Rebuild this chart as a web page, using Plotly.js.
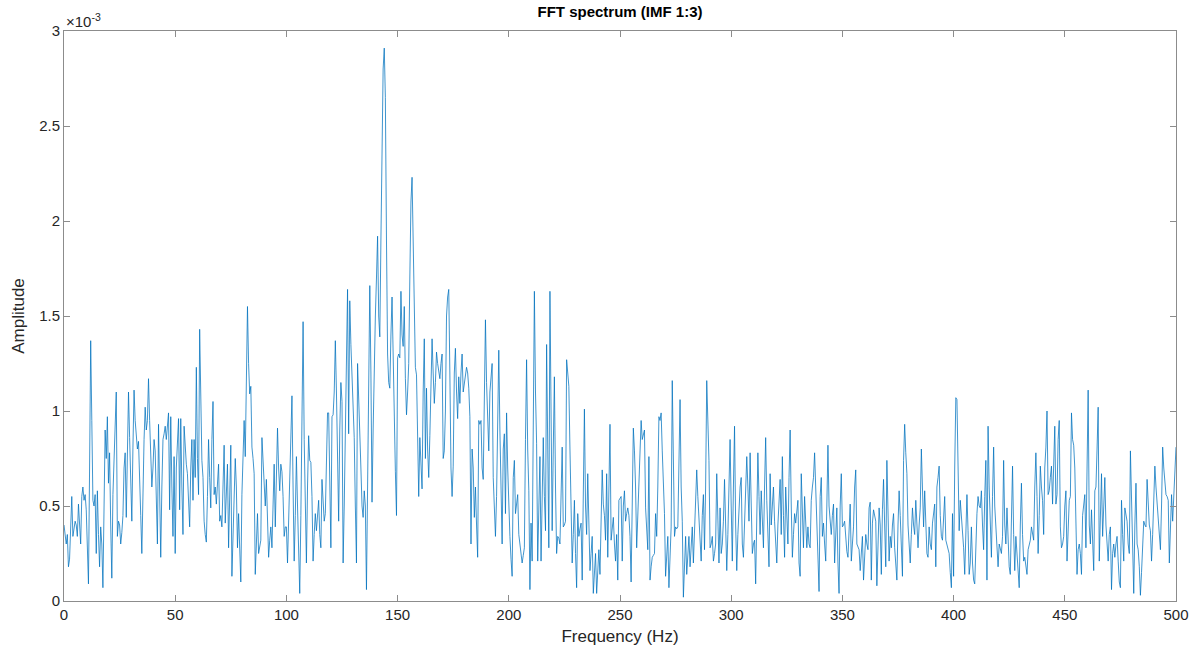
<!DOCTYPE html>
<html>
<head>
<meta charset="utf-8">
<script src="https://cdn.plot.ly/plotly-3.0.1.min.js"></script>
<style>html,body{margin:0;padding:0;background:#fff;}#chart{width:1200px;height:659px;}</style>
</head>
<body>
<div id="chart"></div>
<script>
// Amplitude values in units of 1e-3, frequency step 0.5 Hz, each segment with its start frequency (Hz)
const freqStep = 0.5;
const seg000 = [0.40,0.33,0.30,0.35,0.18,0.22,0.45,0.55,0.34,0.38,
0.42,0.40,0.34,0.51,0.42,0.30,0.55,0.60,0.53,0.56,
0.48,0.30,0.09,0.70,1.37,0.95,0.53,0.50,0.56,0.25,
0.58,0.35,0.18,0.39,0.30,0.07,0.40,0.90,0.75,0.97,
0.62,0.78,0.40,0.12,0.56,0.75,0.95,1.10,0.34,0.42,
0.40,0.30,0.36,0.45,0.70,0.78,0.44,0.90,1.10,0.86,
0.60,0.42,0.81,1.11,0.95,0.85,0.80,0.84,0.58,0.45,
0.25,0.60,0.85,1.02,0.90,0.95,1.17,0.95,0.72,0.60,
0.70,0.85,0.79,0.50,0.30,0.93,0.55,0.23,0.60,0.85,
0.88,0.92];
const seg046 = [0.85,0.92,0.99,0.48,0.97,0.60,0.34,0.76,0.25,0.70,
0.85,0.96,0.48,0.96,0.60,0.35,0.92,0.78,0.72,0.67,
0.50,0.39,0.70,0.85,0.53,0.85,0.65,1.23,0.75,0.56,
1.43,0.95,0.74,0.65,0.42,0.35,0.31,0.55,0.85,0.65,
0.49,0.85,1.05,0.56,0.60,0.51,0.62,0.72,0.42,0.45,
0.39,0.65,0.82,0.41,0.55,0.72,0.28,0.55,0.82,0.13,
0.35,0.56,0.75,0.60,0.28,0.46,0.30,0.10,0.56,0.75,
0.95,0.76,1.20,1.55,1.25,1.09,1.13,0.81,0.75,0.67,
0.14,0.30,0.46,0.25,0.30,0.32,0.86,0.75,0.67,0.50];
const seg091 = [0.64,0.45,0.23,0.32,0.39,0.28,0.50,0.72,0.39,0.60,
0.91,0.70,0.58,0.72,0.68,0.55,0.34,0.39,0.39,0.20,
0.45,0.74,0.90,1.08,0.60,0.21,0.45,0.76,0.50,0.25,
0.04,0.45,0.90,1.47,0.85,0.55,0.20,0.60,0.87,0.74,
0.73,0.55,0.21,0.35,0.46,0.37,0.45,0.53,0.35,0.28,
0.64,0.50,0.42,0.46,0.80,0.99,0.99,0.55,0.28,0.97,
0.98,1.10,1.37,1.10,0.80,0.42,0.90,1.15,1.05,0.20,
0.50,0.86,1.30,1.64,0.88,1.58,1.35,1.18,0.92,0.86,
0.50,0.20,1.25,1.10,0.92,0.70,0.50,0.44,0.58,0.50];
const seg136 = [0.06,0.60,1.04,1.66,1.20,0.52,0.90,1.26,1.50,1.70,
1.92,1.50,1.39,1.90,2.40,2.80,2.91,2.65,1.90,1.30,
1.15,1.12,1.40,1.60,1.30,0.90,0.68,0.45,1.28,1.30,
1.28,1.63,1.40,1.34,1.55,1.17,0.98,1.10,1.25,1.70,
2.10,2.23,1.80,1.40,1.23,1.19,0.90,0.55,0.86,0.75,
0.59,1.10,1.38,0.75,1.12,0.80,0.65,0.87,1.12,1.38,
1.20,1.04,1.15,1.31,1.25,1.22,1.17,1.25,1.30,0.75,
0.79,1.00,1.50,1.60,1.64,1.20,0.70,0.55,0.71,1.20,
1.33,1.10,0.96,1.18,1.04,1.20,1.30,1.10,1.15,1.20,
1.23,1.20,1.12];
const seg182 = [0.97,0.30,0.80,0.70,0.44,0.60,0.40,0.23,0.95,0.93,
0.95,0.70,0.64,1.20,1.48,1.15,1.00,0.79,1.10,1.21,
1.25,0.65,0.49,0.34,0.55,1.00,1.32,0.90,0.60,0.30,
0.80,0.88,0.46,0.99,0.70,0.49,0.34,0.22,0.13,0.65,
0.74,0.46,0.52,0.56,0.35,0.30,0.27,0.20,0.24,0.28,
0.85,1.27,0.80,0.58,0.06,0.41,0.21,0.90,1.63,1.10,
0.83,0.21,0.60,0.76,0.21,0.60,0.86,0.55,0.37,1.35,
0.70,0.28,1.63,1.00,0.37,0.80,1.18,0.60,0.25,0.34,
0.33,0.30,0.60,0.81,0.39,0.40,0.42,1.27,1.20,1.13,
0.80,0.49];
const seg228 = [0.20,0.35,0.53,0.25,0.07,0.46,0.34,0.38,0.41,0.11,
0.55,1.01,0.50,0.35,0.67,0.40,0.16,0.25,0.34,0.04,
0.15,0.25,0.04,0.15,0.27,0.14,0.40,0.69,0.51,0.45,
0.32,0.67,0.23,0.55,0.93,0.32,0.38,0.44,0.30,0.21,
0.35,0.11,0.53,0.54,0.55,0.21,0.50,0.58,0.42,0.46,
0.49,0.45,0.34,0.10,0.50,0.91,0.79,0.60,0.28,0.45,
0.56,0.74,0.95,0.85,0.88,0.90,0.49,0.35,0.27,0.76,
0.11,0.18,0.23,0.24,0.25,0.46,0.34,0.60,0.97,0.95,
0.99,0.79,0.60,0.46,0.13,0.25,0.34,0.07,0.20,0.39];
const seg273 = [1.16,0.60,0.34,0.39,0.38,0.39,0.80,1.06,0.60,0.42,
0.02,0.20,0.34,0.14,0.25,0.34,0.18,0.30,0.39,0.20,
0.40,0.53,0.69,0.55,0.42,0.30,0.21,0.45,0.56,0.27,
0.60,1.16,0.90,0.74,0.28,0.30,0.34,0.21,0.25,0.30,
0.67,0.35,0.20,0.49,0.25,0.30,0.42,0.64,0.40,0.16,
0.35,0.55,0.85,0.50,0.21,0.60,0.92,0.40,0.16,0.35,
0.53,0.60,0.65,0.30,0.23,0.39,0.50,0.76,0.60,0.42,
0.78,0.50,0.25,0.30,0.32,0.09,0.45,0.78,0.55,0.35,
0.58,0.45,0.28,0.60,0.86,0.53,0.30,0.18,0.67];
const seg318 = [0.40,0.50,0.60,0.42,0.30,0.20,0.40,0.55,0.64,0.35,
0.76,0.45,0.23,0.60,0.40,0.30,0.65,0.90,0.50,0.23,
0.35,0.46,0.41,0.50,0.53,0.20,0.13,0.67,0.40,0.28,
0.55,0.35,0.28,0.39,0.30,0.28,0.53,0.60,0.65,0.78,
0.60,0.35,0.20,0.05,0.55,0.65,0.34,0.41,0.30,0.21,
0.50,0.82,0.50,0.39,0.35,0.45,0.51,0.20,0.35,0.49,
0.20,0.04,0.50,0.67,0.39,0.40,0.42,0.30,0.26,0.23,
0.40,0.51,0.21,0.30,0.39,0.60,0.69,0.30,0.28,0.27,
0.16,0.25,0.34,0.11,0.20,0.35,0.30,0.27,0.49,0.52];
const seg363 = [0.11,0.41,0.48,0.45,0.42,0.08,0.35,0.49,0.40,0.14,
0.48,0.64,0.40,0.18,0.74,0.40,0.21,0.34,0.28,0.40,
0.46,0.28,0.20,0.11,0.40,0.58,0.45,0.25,0.13,0.74,
0.93,0.78,0.67,0.40,0.30,0.20,0.35,0.49,0.40,0.35,
0.53,0.40,0.28,0.40,0.49,0.80,0.50,0.39,0.58,0.40,
0.25,0.23,0.39,0.30,0.27,0.41,0.48,0.51,0.18,0.60,
0.65,0.71,0.45,0.34,0.32,0.45,0.55,0.32,0.30,0.28,
0.25,0.15,0.07,0.46,0.13,0.70,1.07,1.06,0.60,0.37,
0.53,0.45,0.37,0.28,0.14,0.35,0.56,0.37,0.14];
const seg407 = [0.20,0.39,0.20,0.11,0.09,0.30,0.46,0.55,0.50,0.49,
0.58,0.40,0.27,0.55,0.74,0.11,0.92,0.60,0.40,0.23,
0.55,0.81,0.50,0.40,0.25,0.18,0.30,0.28,0.25,0.34,
0.74,0.40,0.30,0.49,0.27,0.18,0.14,0.37,0.71,0.35,
0.16,0.34,0.25,0.18,0.07,0.40,0.62,0.35,0.21,0.23,
0.18,0.14,0.27,0.30,0.32,0.39,0.35,0.32,0.60,0.78,
0.55,0.25,0.45,0.71,0.60,0.53,0.35,0.70,0.81,1.00,
0.56,0.58,0.65,0.71,0.51,0.75,0.92,0.51,0.56,0.85,
0.95,0.39,0.28,0.30,0.34,0.50,0.58,0.21,0.40,0.53,
0.55];
const seg453 = [0.99,0.85,0.82,0.70,0.30,0.14,0.27,0.30,0.25,0.14,
0.45,0.53,0.56,0.28,0.80,1.11,0.40,0.30,0.48,0.25,
0.16,0.58,0.60,0.80,1.02,0.21,0.50,0.67,0.34,0.50,
0.65,0.40,0.32,0.21,0.35,0.39,0.06,0.25,0.30,0.23,
0.30,0.34,0.21,0.10,0.07,0.53,0.35,0.21,0.49,0.45,
0.42,0.30,0.25,0.79,0.50,0.34,0.04,0.40,0.62,0.30,
0.27,0.18,0.03,0.15,0.28,0.42,0.40,0.39,0.64,0.46,
0.40,0.37,0.21,0.35,0.49,0.71,0.60,0.51,0.40,0.35,
0.27,0.50,0.81,0.70,0.60,0.56,0.55,0.53,0.20,0.40,
0.56,0.42,0.55,0.71,0.81];
const segmentStarts = [0, 46, 91, 136, 182.5, 228.5, 273.5, 318, 363, 407.5, 453];
const segmentValues = [seg000, seg046, seg091, seg136, seg182, seg228, seg273, seg318, seg363, seg407, seg453];
const xTicks = [0,50,100,150,200,250,300,350,400,450,500];
const yTicks = [0,0.5,1,1.5,2,2.5,3];
const yTickText = ['0','0.5','1','1.5','2','2.5','3'];

const freq = [], amp = [];
segmentValues.forEach((vals, s) => {
  vals.forEach((v, i) => { freq.push(segmentStarts[s] + i * freqStep); amp.push(v); });
});

const axisColor = '#262626';
const frameColor = '#8c8c8c';
const fontFam = 'Liberation Sans, Arial, Helvetica, sans-serif';

Plotly.newPlot('chart', [{
  x: freq, y: amp, type: 'scatter', mode: 'lines',
  line: {color: '#0072BD', width: 0.75}, hoverinfo: 'skip'
}], {
  width: 1200, height: 659,
  margin: {l: 64, r: 24, t: 31, b: 58},
  paper_bgcolor: '#ffffff', plot_bgcolor: '#ffffff',
  showlegend: false,
  font: {family: fontFam, color: axisColor},
  title: {text: '<b>FFT spectrum (IMF 1:3)</b>', font: {size: 15, color: '#000000', family: fontFam},
          x: 0.5, xref: 'paper', y: 1 - 12/659, yref: 'container', yanchor: 'middle'},
  xaxis: {
    range: [0, 500], tickvals: xTicks, ticktext: xTicks.map(String),
    showgrid: false, zeroline: false,
    showline: true, linecolor: frameColor, linewidth: 1, mirror: 'ticks',
    ticks: 'inside', ticklen: 6, tickcolor: frameColor, tickwidth: 1,
    tickfont: {size: 15, color: axisColor, family: fontFam},
    title: {text: 'Frequency (Hz)', font: {size: 17, color: axisColor, family: fontFam}, standoff: 8}
  },
  yaxis: {
    range: [0, 3], tickvals: yTicks, ticktext: yTickText,
    showgrid: false, zeroline: false,
    showline: true, linecolor: frameColor, linewidth: 1, mirror: 'ticks',
    ticks: 'inside', ticklen: 6, tickcolor: frameColor, tickwidth: 1,
    tickfont: {size: 15, color: axisColor, family: fontFam},
    title: {text: 'Amplitude', font: {size: 17, color: axisColor, family: fontFam}, standoff: 10}
  },
  annotations: [{
    text: '×10<sup>-3</sup>', xref: 'paper', yref: 'paper', x: 0, y: 1,
    xanchor: 'left', yanchor: 'bottom', showarrow: false, xshift: 0, yshift: -1,
    font: {size: 15, color: axisColor, family: fontFam}
  }]
}, {staticPlot: true, displayModeBar: false});
</script>
</body>
</html>
